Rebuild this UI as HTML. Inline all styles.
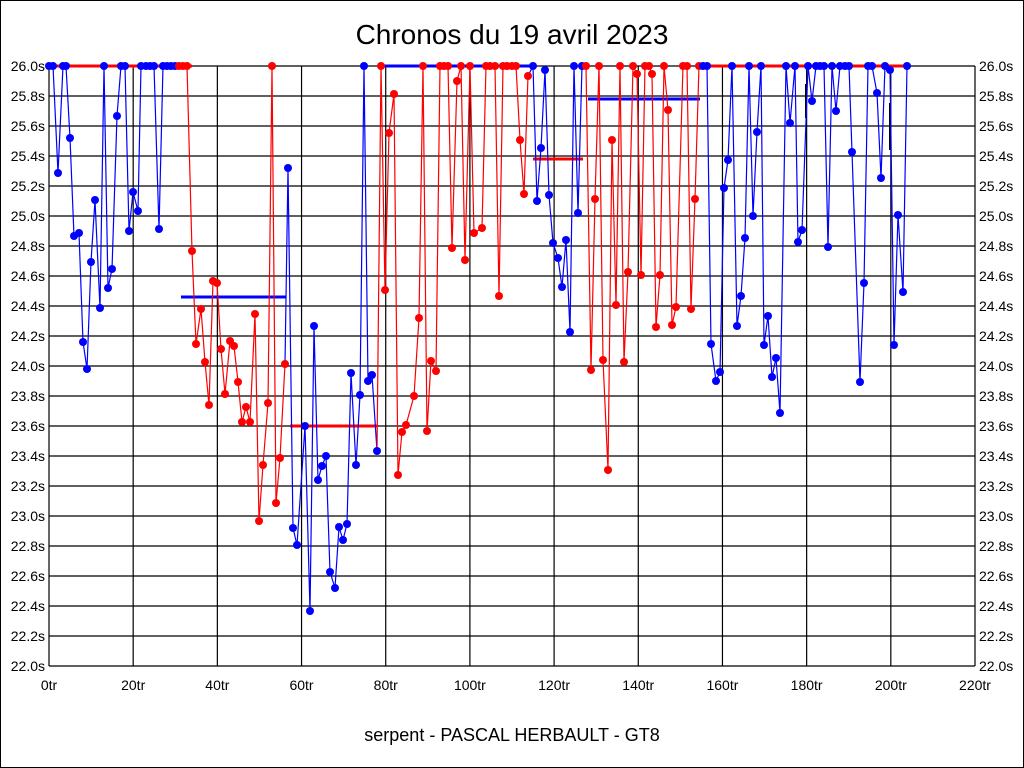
<!DOCTYPE html>
<html><head><meta charset="utf-8"><style>
html,body{margin:0;padding:0;background:#fff}
svg{display:block}
text{font-family:"Liberation Sans",sans-serif;fill:#000}
</style></head><body>
<svg id="s" width="1024" height="768" xmlns="http://www.w3.org/2000/svg">
<rect x="0.5" y="0.5" width="1023" height="767" fill="#fff" stroke="#000"/>
<text x="512" y="44" font-size="28" text-anchor="middle">Chronos du 19 avril 2023</text>
<text x="512" y="741" font-size="18" text-anchor="middle">serpent - PASCAL HERBAULT - GT8</text>
<g id="grid"></g>
<g id="data"></g>
</svg>
<script>
var NS="http://www.w3.org/2000/svg";
function el(p,t,a,txt){var e=document.createElementNS(NS,t);for(var k in a)e.setAttribute(k,a[k]);if(txt!=null)e.textContent=txt;p.appendChild(e);return e;}
var g=document.getElementById('grid'),d=document.getElementById('data');
var L=49,R=975,T=66,B=666;
for(var i=0;i<=20;i++){var y=T+i*30;
 el(g,'line',{x1:L,x2:R,y1:y,y2:y,stroke:'#000','stroke-width':1.2});
 var v=(26-i*0.2).toFixed(1)+'s';
 el(g,'text',{x:45,y:y+5,'font-size':14,'text-anchor':'end'},v);
 el(g,'text',{x:979,y:y+5,'font-size':14},v);}
for(var j=0;j<=11;j++){var x=L+j*(R-L)/11;
 el(g,'line',{x1:x,x2:x,y1:T,y2:B,stroke:'#000','stroke-width':1.2});
 el(g,'text',{x:x,y:690,'font-size':14,'text-anchor':'middle'},(j*20)+'tr');}
var segs=[
['#00f',[[49,66],[53,66],[58,173],[63,66],[66,66],[70,138],[74,236],[79,233],[83,342],[87,369],[91,262],[95,200],[100,308],[104,66],[108,288],[112,269],[117,116],[121,66],[125,66],[129,231],[133,192],[138,211],[141,66],[146,66],[150,66],[154,66],[159,229],[163,66],[167,66],[171,66],[175,66]]],
['#f00',[[175,66],[179,66],[183,66],[187,66],[192,251],[196,344],[201,309],[205,362],[209,405],[213,281],[217,283],[221,349],[225,394],[230,341],[234,346],[238,382],[242,422],[246,407],[250,422],[255,314],[259,521],[263,465],[268,403],[272,66],[276,503],[280,458],[285,364]]],
['#00f',[[285,364],[288,168],[293,528],[297,545],[305,426],[310,611],[314,326],[318,480],[322,466],[326,456],[330,572],[335,588],[339,527],[343,540],[347,524],[351,373],[356,465],[360,395],[364,66],[368,381],[372,375],[377,451]]],
['#f00',[[377,451],[381,66],[385,290],[389,133],[394,94],[398,475],[402,432],[406,425],[414,396],[419,318],[423,66],[427,431],[431,361],[436,371],[440,66],[444,66],[448,66],[452,248],[457,81],[461,66],[465,260],[470,66],[474,233],[482,228],[486,66],[490,66],[495,66],[499,296],[503,66],[507,66],[512,66],[516,66],[520,140],[524,194],[528,76]]],
['#00f',[[528,76],[533,66],[537,201],[541,148],[545,70],[549,195],[553,243],[558,258],[562,287],[566,240],[570,332],[574,66],[578,213],[582,66]]],
['#f00',[[582,66],[586,66],[591,370],[595,199],[599,66],[603,360],[608,470],[612,140],[616,305],[620,66],[624,362],[628,272],[633,66],[637,74],[641,275],[645,66],[649,66],[652,74],[656,327],[660,275],[664,66],[668,110],[672,325],[676,307],[683,66],[687,66],[691,309],[695,199],[699,66]]],
['#00f',[[699,66],[703,66],[707,66],[711,344],[716,381],[720,372],[724,188],[728,160],[732,66],[737,326],[741,296],[745,238],[749,66],[753,216],[757,132],[761,66],[764,345],[768,316],[772,377],[776,358],[780,413],[786,66],[790,123],[795,66],[798,242],[802,230],[808,66],[812,101],[816,66],[820,66],[824,66],[828,247],[832,66],[836,111],[840,66],[845,66],[849,66],[852,152],[860,382],[864,283],[868,66],[872,66],[877,93],[881,178],[885,66],[890,70],[894,345],[898,215],[903,292],[907,66]]]
];
el(d,'line',{x1:53,x2:192,y1:66,y2:66,stroke:'#f00','stroke-width':3});
el(d,'line',{x1:378,x2:530,y1:66,y2:66,stroke:'#00f','stroke-width':3});
el(d,'line',{x1:700,x2:907,y1:66,y2:66,stroke:'#f00','stroke-width':3});
el(d,'line',{x1:181,x2:286,y1:297,y2:297,stroke:'#00f','stroke-width':3});
el(d,'line',{x1:290,x2:377,y1:426,y2:426,stroke:'#f00','stroke-width':3});
el(d,'line',{x1:533,x2:583,y1:159,y2:159,stroke:'#f00','stroke-width':3});
el(d,'line',{x1:588,x2:700,y1:99,y2:99,stroke:'#00f','stroke-width':3});
el(d,'line',{x1:806,x2:806,y1:84,y2:118,stroke:'#000','stroke-width':2});
el(d,'line',{x1:890,x2:890,y1:103,y2:150,stroke:'#000','stroke-width':2});
segs.forEach(function(s){
 var pts=s[1].map(function(p){return p.join(',');}).join(' ');
 el(d,'polyline',{points:pts,fill:'none',stroke:s[0],'stroke-width':1.2});
});
segs.forEach(function(s){
 s[1].forEach(function(p,k){ if(k===0&&s!==segs[0])return;
  el(d,'circle',{cx:p[0],cy:p[1],r:4,fill:s[0]});});
});
</script>
</body></html>
